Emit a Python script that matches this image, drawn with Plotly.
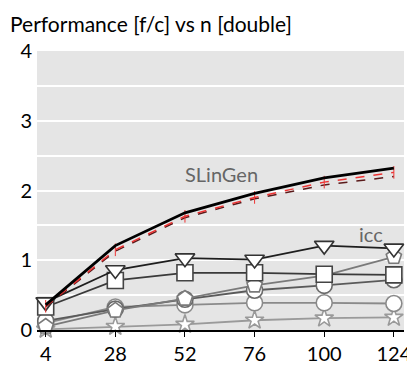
import plotly.graph_objects as go

n = [4, 28, 52, 76, 100, 124]

slingen = [0.36, 1.21, 1.68, 1.96, 2.18, 2.32]
slingen_red = [0.34, 1.15, 1.63, 1.90, 2.12, 2.26]
slingen_dark = [0.33, 1.13, 1.61, 1.88, 2.08, 2.20]
tri_down = [0.40, 0.86, 1.03, 1.01, 1.21, 1.17]
squares = [0.33, 0.71, 0.82, 0.82, 0.80, 0.79]
pentagons = [0.05, 0.28, 0.45, 0.64, 0.78, 1.05]
circles_a = [0.13, 0.30, 0.44, 0.57, 0.64, 0.72]
circles_b = [0.10, 0.33, 0.36, 0.39, 0.39, 0.38]
stars = [0.01, 0.05, 0.08, 0.14, 0.17, 0.18]

y_ticks = [0, 0.5, 1, 1.5, 2, 2.5, 3, 3.5, 4]
y_labels = ["0", "", "1", "", "2", "", "3", "", "4"]

FONT = "Lato"

fig = go.Figure()


def marked(vals, sym, size, line_col, edge_col):
    fig.add_trace(go.Scatter(
        x=n, y=vals, mode="lines+markers",
        line=dict(color=line_col, width=1.8),
        marker=dict(symbol=sym, size=size, color="white",
                    line=dict(color=edge_col, width=1.6)),
        showlegend=False, cliponaxis=False))


marked(stars, "star", 14, "#9a9a9a", "#9a9a9a")
marked(circles_b, "circle", 16, "#8a8a8a", "#8a8a8a")
marked(circles_a, "circle", 16, "#5a5a5a", "#6a6a6a")
marked(pentagons, "pentagon", 16, "#7a7a7a", "#7a7a7a")
marked(squares, "square", 16, "#3a3a3a", "#444444")
marked(tri_down, "triangle-down", 17, "#1e1e1e", "#333333")

fig.add_trace(go.Scatter(
    x=n, y=slingen_dark, mode="lines",
    line=dict(color="#5a1a1a", width=1.5, dash="dash"), showlegend=False))
fig.add_trace(go.Scatter(
    x=n, y=slingen_red, mode="lines+markers",
    line=dict(color="#ee3333", width=1.5, dash="dash"),
    marker=dict(symbol="line-ns", size=9, line=dict(color="#ee3333", width=1)),
    showlegend=False))
fig.add_trace(go.Scatter(
    x=n, y=slingen, mode="lines",
    line=dict(color="black", width=2.8), showlegend=False))

fig.add_annotation(x=78, y=2.24, text="SLinGen", showarrow=False,
                   xanchor="right", font=dict(family=FONT, size=20, color="#666666"))
fig.add_annotation(x=121, y=1.38, text="icc", showarrow=False,
                   xanchor="right", font=dict(family=FONT, size=20, color="#666666"))

fig.update_layout(
    width=415, height=369,
    margin=dict(l=26, r=13, t=43, b=35),
    paper_bgcolor="white", plot_bgcolor="#e5e5e5",
    font=dict(family=FONT, size=20, color="black"),
    title=dict(text="Performance [f/c] vs n [double]", x=0.005, xanchor="left",
               y=0.975, yanchor="top", font=dict(family=FONT, size=21, color="black")),
)
fig.update_xaxes(range=[1, 127.5], tickvals=n, showgrid=False, zeroline=False,
                 showline=True, linecolor="black", linewidth=2,
                 ticks="outside", ticklen=5, tickcolor="black", tickwidth=1)
fig.update_yaxes(range=[0, 4], tickvals=y_ticks, ticktext=y_labels,
                 showgrid=True, gridcolor="white", gridwidth=1.5,
                 zeroline=False, ticks="", ticklabelstandoff=4)

fig.write_html("out.html")
